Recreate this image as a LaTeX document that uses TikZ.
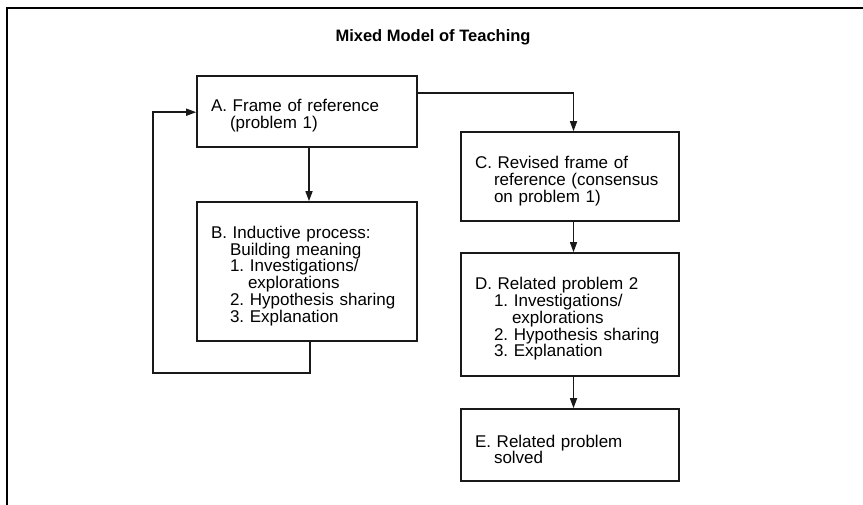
\documentclass[tikz,border=0pt]{standalone}
\usepackage{fontspec}
\setmainfont{Liberation Sans}
\usetikzlibrary{arrows.meta}
\tikzset{
  box/.style={draw=black!90, line width=1.6pt, inner sep=0pt, minimum width=#1,
    text width=#1-28pt, align=left, font=\fontsize{17}{16.8}\selectfont\frenchspacing,
    execute at begin node={\rule{0pt}{21pt}}},
  flow/.style={draw=black!90, line width=1.4pt, -{Triangle[length=10pt,width=7pt]}},
  frameline/.style={draw=black, line width=1.6pt},
}
\newcommand{\ind}{\hspace*{19pt}}
\newcommand{\indd}{\hspace*{37pt}}
\begin{document}
\begin{tikzpicture}[x=1pt,y=-1pt]
  \useasboundingbox (0,0) rectangle (863,505);

  % open frame: left and top rules
  \draw[frameline] (7,505) -- (7,8) -- (863,8);

  \node[anchor=base, font=\bfseries\fontsize{16.5}{18}\selectfont] (title) at (433,42) {Mixed Model of Teaching};

  \node[box=220pt, minimum height=71pt] (A) at (307,111.5)
    {A. Frame of reference\\\ind(problem 1)};
  \node[box=220pt, minimum height=139pt] (B) at (307,271.5)
    {B. Inductive process:\\\ind Building meaning\\\ind 1. Investigations/\\\indd explorations\\\ind 2. Hypothesis sharing\\\ind 3. Explanation};
  \node[box=218pt, minimum height=89pt] (C) at (570,176.5)
    {C. Revised frame of\\\ind reference (consensus\\\ind on problem 1)};
  \node[box=218pt, minimum height=123pt] (D) at (570,314.5)
    {D. Related problem 2\\\ind 1. Investigations/\\\indd explorations\\\ind 2. Hypothesis sharing\\\ind 3. Explanation};
  \node[box=218pt, minimum height=72pt] (E) at (570,445)
    {E. Related problem\\\ind solved};

  \coordinate (loopcorner) at (153,373);

  \draw[flow] ([xshift=2pt]A.south) -- ([xshift=2pt]B.north);
  \draw[flow] ([yshift=-18pt]A.north east) -| ([xshift=3.5pt]C.north);
  \draw[flow] ([xshift=3.5pt]C.south) -- ([xshift=3.5pt]D.north);
  \draw[flow] ([xshift=3.5pt]D.south) -- ([xshift=3.5pt]E.north);
  \draw[flow] ([xshift=3pt]B.south) |- (loopcorner) |- ([yshift=-37pt]A.north west);
\end{tikzpicture}
\end{document}
